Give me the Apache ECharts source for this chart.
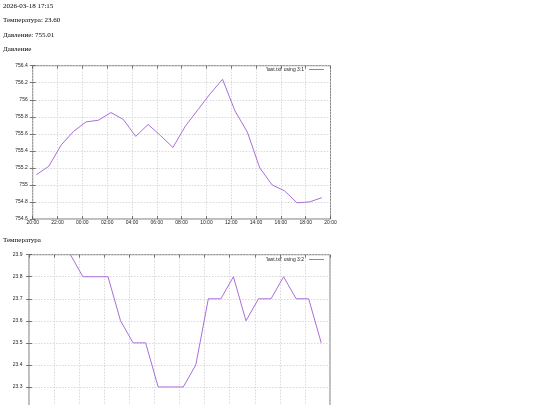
<!DOCTYPE html>
<html><head><meta charset="utf-8">
<script src="https://cdn.jsdelivr.net/npm/echarts@6/dist/echarts.min.js"></script>
<style>html,body{margin:0;padding:0;background:#fff}#c{width:540px;height:405px}</style>
</head><body><div id="c"></div>
<script>
const headerLines = ['2026-03-18 17:15', 'Температура: 23.60', 'Давление: 755.01', 'Давление'];
const secondTitle = 'Температура';
const seriesNames = ["'last.txt' using 3:1", "'last.txt' using 3:2"];
const times = ['20:18','21:18','22:18','23:18','00:18','01:18','02:18','03:18','04:18','05:18','06:18','07:18',
               '08:18','09:18','10:18','11:18','12:18','13:18','14:18','15:18','16:18','17:18','18:18','19:18'];
const pressure = [755.12,755.22,755.47,755.63,755.74,755.76,755.85,755.77,755.57,755.71,755.58,755.44,
                  755.69,755.88,756.07,756.24,755.87,755.62,755.20,755.00,754.93,754.79,754.80,754.85];
const temperature = [24.0,24.0,24.0,23.9,23.8,23.8,23.8,23.6,23.5,23.5,23.3,23.3,
                     23.3,23.4,23.7,23.7,23.8,23.6,23.7,23.7,23.8,23.7,23.7,23.5];

function hourOffset(t){ const p = t.split(':').map(Number); return ((p[0]-20+24)%24) + p[1]/60; }
const pData = times.map((t,i)=>[hourOffset(t), pressure[i]]);
const tData = times.map((t,i)=>[hourOffset(t), temperature[i]]);

const serif = 'Liberation Serif';
const sans = 'Liberation Sans';
const lineColor = '#a96fd8';
const fmtX = v => String((20+v)%24).padStart(2,'0') + ':00';
const fmtY = v => String(parseFloat(v.toFixed(1)));

const tick = {show:true, inside:true, length:3, lineStyle:{color:'#555', width:0.8}};
const split = {show:true, lineStyle:{color:'#cfcfcf', width:0.8, type:[1.5,1.5]}};
const lbl = {fontSize:5, fontFamily:sans, color:'#222'};

function xAxes(gi){
  return [
    {type:'value', gridIndex:gi, position:'bottom', min:0, max:24, interval:2,
     axisLine:{show:false}, axisTick:tick, splitLine:split,
     axisLabel:Object.assign({margin:1.5, formatter:fmtX}, lbl)},
    {type:'value', gridIndex:gi, position:'top', min:0, max:24, interval:2,
     axisLine:{show:false}, axisTick:tick, splitLine:{show:false}, axisLabel:{show:false}}
  ];
}
function yAxes(gi, min, max, iv, margin){
  return [
    {type:'value', gridIndex:gi, position:'left', min:min, max:max, interval:iv, scale:true,
     axisLine:{show:false}, axisTick:tick, splitLine:split,
     axisLabel:Object.assign({margin:margin, formatter:fmtY}, lbl)},
    {type:'value', gridIndex:gi, position:'right', min:min, max:max, interval:iv, scale:true,
     axisLine:{show:false}, axisTick:tick, splitLine:{show:false}, axisLabel:{show:false}}
  ];
}

const headerY = [6, 20.5, 35, 49.5];
const font = '7px "' + serif + '"';
const graphics = headerLines.map((s,i)=>({type:'text', x:3, y:headerY[i],
  style:{text:s, font:font, fill:'#000', verticalAlign:'middle'}}));
graphics.push({type:'text', x:3, y:240, style:{text:secondTitle, font:font, fill:'#000', verticalAlign:'middle'}});

const legendBase = {right:216, align:'right', icon:'rect', itemWidth:15, itemHeight:1, padding:0, itemGap:0,
  textStyle:{fontSize:5, fontFamily:sans, color:'#222'}};

const chart = echarts.init(document.getElementById('c'), null, {renderer:'canvas'});
chart.setOption({
  animation:false,
  backgroundColor:'#fff',
  graphic:graphics,
  legend:[
    Object.assign({data:[seriesNames[0]], top:67}, legendBase),
    Object.assign({data:[seriesNames[1]], top:257}, legendBase)
  ],
  grid:[
    {left:32.7, top:65.7, width:297.8, height:153.3, show:true, borderColor:'#7a7a7a', borderWidth:1,
     containLabel:false, outerBoundsMode:'none'},
    {left:29, top:254.7, width:301, height:154.3, show:true, borderColor:'#7a7a7a', borderWidth:1,
     containLabel:false, outerBoundsMode:'none'}
  ],
  xAxis: xAxes(0).concat(xAxes(1)),
  yAxis: yAxes(0, 754.6, 756.4, 0.2, 5).concat(yAxes(1, 23.2, 23.9, 0.1, 6.5)),
  series:[
    {name:seriesNames[0], type:'line', xAxisIndex:0, yAxisIndex:0, data:pData, symbol:'none', clip:true,
     lineStyle:{color:lineColor, width:1}, itemStyle:{color:lineColor}},
    {name:seriesNames[1], type:'line', xAxisIndex:2, yAxisIndex:2, data:tData, symbol:'none', clip:true,
     lineStyle:{color:lineColor, width:1}, itemStyle:{color:lineColor}}
  ]
});
</script></body></html>
